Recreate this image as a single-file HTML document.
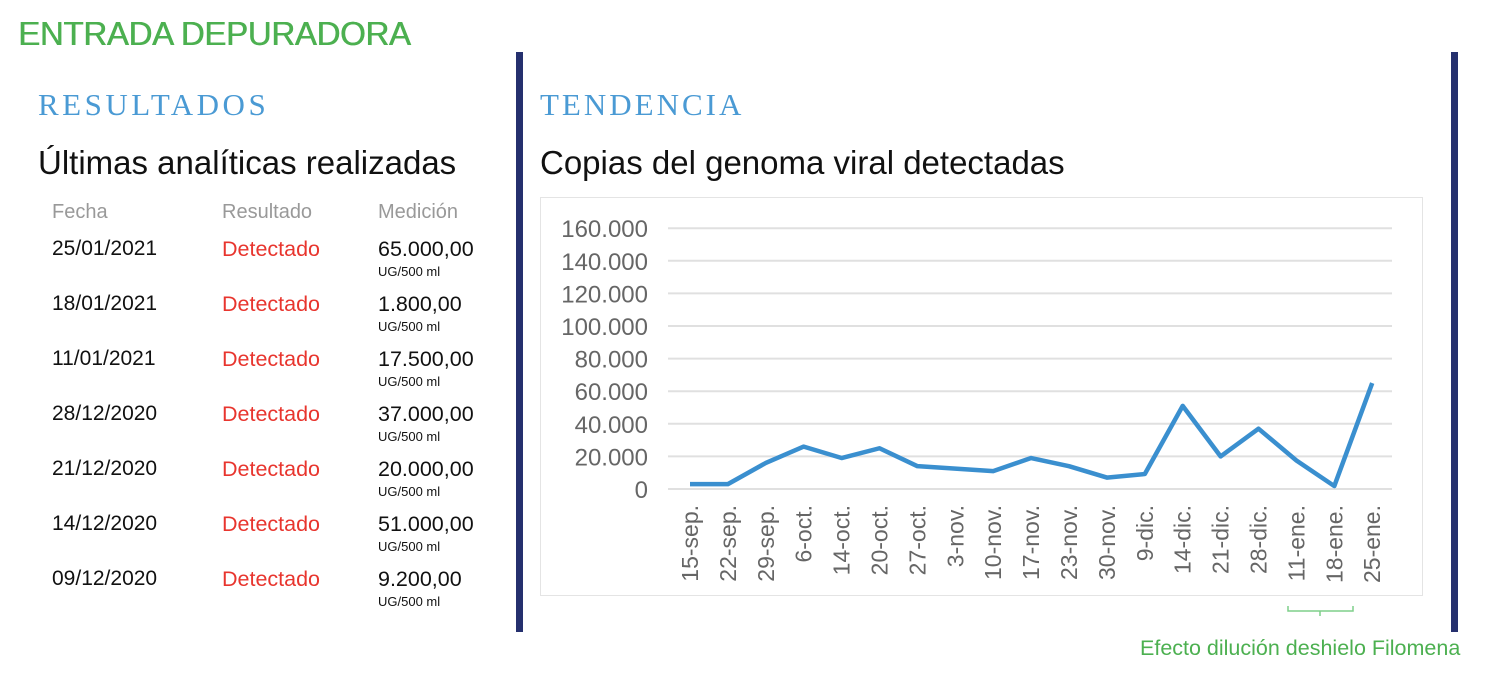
<!DOCTYPE html>
<html><head><meta charset="utf-8"><style>
body{margin:0;width:1500px;height:673px;background:#fff;position:relative;overflow:hidden;font-family:"Liberation Sans",sans-serif}
.a{position:absolute;white-space:nowrap}
</style></head><body>
<div class="a" style="left:18px;top:15px;font-size:33px;color:#4cb050;letter-spacing:-0.3px;text-shadow:0.6px 0 0 #4cb050">ENTRADA DEPURADORA</div>
<div class="a" style="left:38px;top:87px;font-family:'Liberation Serif',serif;font-size:31px;color:#4a9ad4;letter-spacing:3.5px">RESULTADOS</div>
<div class="a" style="left:540px;top:87px;font-family:'Liberation Serif',serif;font-size:31px;color:#4a9ad4;letter-spacing:3px">TENDENCIA</div>
<div class="a" style="left:38px;top:144px;font-size:33px;color:#111">Últimas analíticas realizadas</div>
<div class="a" style="left:540px;top:144px;font-size:33px;color:#111">Copias del genoma viral detectadas</div>
<div class="a" style="left:516px;top:52px;width:7px;height:580px;background:#25306e"></div>
<div class="a" style="left:1451px;top:52px;width:7px;height:580px;background:#25306e"></div>
<div class="a" style="left:52px;top:201px;font-size:20px;color:#999">Fecha</div>
<div class="a" style="left:222px;top:201px;font-size:20px;color:#999">Resultado</div>
<div class="a" style="left:378px;top:201px;font-size:20px;color:#999">Medición</div>
<div id="rows"></div>
<svg class="a" style="left:0;top:0" width="1500" height="673">
<rect x="540.5" y="197.5" width="882" height="398" fill="none" stroke="#e4e4e4"/>
<g id="g" stroke="#e0e0e0" stroke-width="2"></g>
<g id="yl" font-size="24" fill="#666" text-anchor="end" font-family="Liberation Sans"></g>
<g id="xl" font-size="23" fill="#666" font-family="Liberation Sans"></g>
<polyline id="ln" fill="none" stroke="#3a8fcf" stroke-width="4.5" stroke-linejoin="round"/>
<path d="M1288 606 V611 H1353 V606 M1320 611 V616" fill="none" stroke="#7fcf8a" stroke-width="1.5"/>
<text x="1140" y="655" font-size="21.5" fill="#4cb050" font-family="Liberation Sans">Efecto dilución deshielo Filomena</text>
</svg>
<script>
var r=[["25/01/2021","65.000,00"],["18/01/2021","1.800,00"],["11/01/2021","17.500,00"],["28/12/2020","37.000,00"],["21/12/2020","20.000,00"],["14/12/2020","51.000,00"],["09/12/2020","9.200,00"]];
var h="";r.forEach(function(d,i){var y=237+i*55;
h+='<div class="a" style="left:52px;top:'+y+'px;font-size:21px;color:#111">'+d[0]+'</div><div class="a" style="left:222px;top:'+y+'px;font-size:21.5px;color:#e8352e">Detectado</div><div class="a" style="left:378px;top:'+y+'px;font-size:21.5px;color:#111">'+d[1]+'</div><div class="a" style="left:378px;top:'+(y+27)+'px;font-size:13px;color:#111">UG/500 ml</div>';});
document.getElementById("rows").innerHTML=h;
var ns="http://www.w3.org/2000/svg",g=document.getElementById("g"),yl=document.getElementById("yl"),xl=document.getElementById("xl");
for(var k=0;k<=8;k++){var y=489-k*32.6;var l=document.createElementNS(ns,"line");l.setAttribute("x1",668);l.setAttribute("x2",1392);l.setAttribute("y1",y);l.setAttribute("y2",y);g.appendChild(l);
var t=document.createElementNS(ns,"text");t.setAttribute("x",648);t.setAttribute("y",y+9);t.textContent=k==0?"0":(k*20)+".000";yl.appendChild(t);}
var v=[3000,3000,16000,26000,19000,25000,14000,12500,11000,19000,14000,7000,9200,51000,20000,37000,17500,1800,65000];
var lb=["15-sep.","22-sep.","29-sep.","6-oct.","14-oct.","20-oct.","27-oct.","3-nov.","10-nov.","17-nov.","23-nov.","30-nov.","9-dic.","14-dic.","21-dic.","28-dic.","11-ene.","18-ene.","25-ene."];
var p=[];v.forEach(function(d,i){var x=690+i*37.9;p.push(x+","+(489-d/20000*32.6));
var t=document.createElementNS(ns,"text");t.setAttribute("transform","translate("+(x+8)+",505) rotate(-90)");t.setAttribute("text-anchor","end");t.textContent=lb[i];xl.appendChild(t);});
document.getElementById("ln").setAttribute("points",p.join(" "));
</script>
</body></html>
